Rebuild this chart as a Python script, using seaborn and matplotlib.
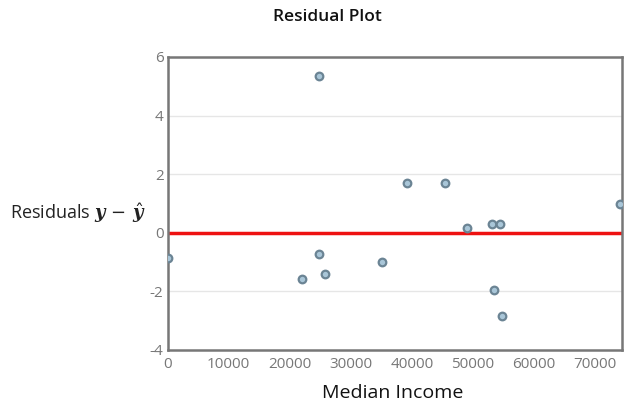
import matplotlib
matplotlib.use("Agg")
import matplotlib.pyplot as plt
import seaborn as sns
import pandas as pd

median_income = [0, 24800, 24800, 22000, 25700, 35100, 39200, 45500,
                 49000, 53200, 54500, 53500, 54800, 74150]
residuals = [-0.87, 5.36, -0.72, -1.59, -1.41, -1.01, 1.69, 1.69,
             0.15, 0.28, 0.28, -1.97, -2.84, 0.99]
x_ticks = [0, 10000, 20000, 30000, 40000, 50000, 60000, 70000]
y_ticks = [-4, -2, 0, 2, 4, 6]

df = pd.DataFrame({"Median Income": median_income, "Residual": residuals})

sns.set_theme(style="white")
plt.rcParams['font.family'] = ['Open Sans', 'DejaVu Sans']
plt.rcParams['mathtext.fontset'] = 'custom'
plt.rcParams['mathtext.rm'] = 'DejaVu Serif'
plt.rcParams['mathtext.it'] = 'DejaVu Serif:italic'
plt.rcParams['mathtext.bf'] = 'DejaVu Serif:italic:bold'

fig = plt.figure(figsize=(6.24, 4.04), dpi=100)
ax = fig.add_axes([167.7/624, 1-349.7/404, (621.7-167.7)/624, (349.7-57)/404])

for yv in [4, 2, -2]:
    ax.axhline(yv, color='#e6e6e6', lw=1, zorder=0)
ax.axhline(0, color='#ee1111', lw=2.5, zorder=1)

sns.scatterplot(data=df, x="Median Income", y="Residual", ax=ax,
                s=30, color='#a9c6d8', edgecolor='#6b8494', linewidth=1.6,
                zorder=3, legend=False)

ax.set_xlim(0, 74400)
ax.set_ylim(-4, 6)
ax.set_xticks(x_ticks)
ax.set_xticklabels([str(t) for t in x_ticks])
ax.set_yticks(y_ticks)
ax.set_yticklabels([str(t) for t in y_ticks])
ax.tick_params(axis='both', colors='#777777', labelsize=11, length=0, pad=3)
ax.tick_params(axis='x', pad=5)
ax.set_xlabel("")
ax.set_ylabel("")
for sp in ax.spines.values():
    sp.set_color('#777777')
    sp.set_linewidth(1.8)
    sp.set_visible(True)

fig.text(327/624, 1-17/404, "Residual Plot", ha='center', va='center',
         fontsize=12.5, fontweight=600, color='#111111')
fig.text(393/624, 1-393/404, "Median Income", ha='center', va='center',
         fontsize=14, color='#111111')
fig.text(10/624, 1-213/404, r"Residuals $\mathbf{y}\,-\,\hat{\mathbf{y}}$",
         ha='left', va='center', fontsize=13, color='#222222')

fig.savefig("out.png", dpi=100)
